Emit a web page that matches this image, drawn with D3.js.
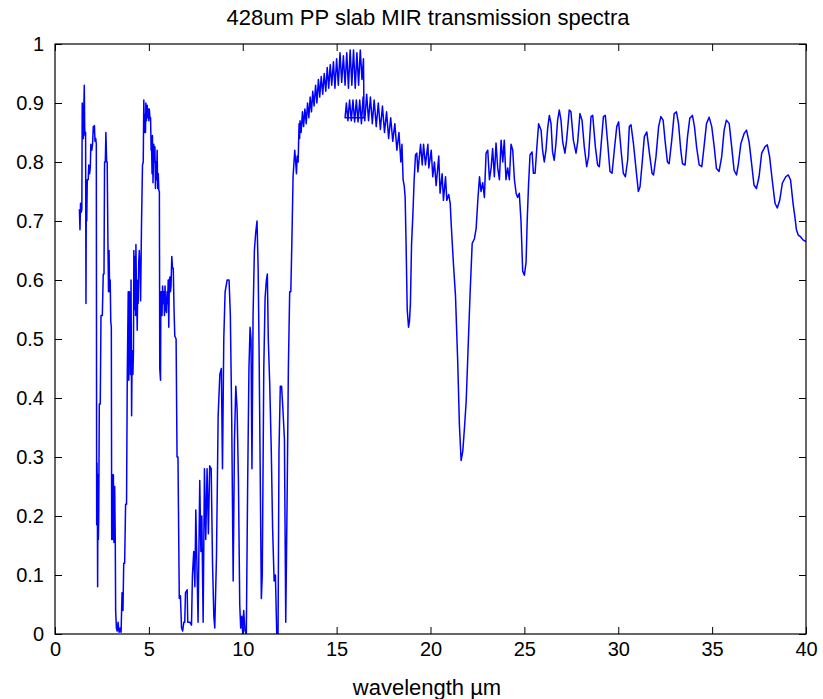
<!DOCTYPE html>
<html>
<head>
<meta charset="utf-8">
<script src="https://cdn.jsdelivr.net/npm/d3@7"></script>
<style>
  html, body { margin: 0; padding: 0; background: #ffffff; }
  svg { display: block; }
  text { font-family: "Liberation Sans", Arial, sans-serif; fill: #000; }
</style>
</head>
<body>
<div id="chart"></div>
<script>
// ---------- DATA (wavelength µm, transmission) ----------
const titleText = "428um PP slab MIR transmission spectra";
const xLabelText = "wavelength \u00b5m";
const xTicks = [0, 5, 10, 15, 20, 25, 30, 35, 40];
const yTicks = [0, 0.1, 0.2, 0.3, 0.4, 0.5, 0.6, 0.7, 0.8, 0.9, 1];

const segNear = [[1.30,0.72],[1.33,0.685],[1.36,0.73],[1.40,0.715],[1.43,0.72],[1.45,0.90],[1.48,0.88],[1.51,0.84],[1.54,0.90],[1.56,0.93],[1.58,0.86],[1.60,0.845],[1.63,0.85],[1.65,0.56],[1.67,0.77],[1.69,0.70],[1.72,0.77],[1.77,0.77],[1.80,0.795],[1.84,0.78],[1.88,0.79],[1.91,0.83],[1.96,0.82],[2.00,0.83],[2.04,0.86],[2.08,0.85],[2.10,0.862],[2.13,0.835],[2.17,0.84],[2.20,0.83],[2.22,0.185],[2.24,0.29],[2.26,0.19],[2.27,0.08],[2.29,0.27],[2.31,0.16],[2.33,0.20],[2.36,0.39],[2.41,0.39],[2.45,0.54],[2.52,0.54],[2.57,0.61],[2.61,0.61],[2.64,0.80],[2.68,0.80],[2.71,0.85],[2.75,0.80],[2.78,0.80],[2.82,0.66],[2.85,0.58],[2.88,0.65],[2.91,0.58],[2.94,0.60],[2.97,0.53],[3.00,0.52],[3.02,0.16],[3.05,0.27],[3.08,0.16],[3.11,0.27],[3.14,0.155],[3.18,0.25],[3.21,0.16],[3.23,0.04],[3.27,0.01],[3.31,0.005],[3.36,0.02],[3.41,0.003],[3.47,0.01],[3.52,0.003],[3.57,0.07],[3.62,0.04],[3.66,0.12],[3.71,0.12],[3.76,0.22],[3.81,0.22],[3.85,0.44],[3.90,0.58],[3.93,0.43],[3.96,0.58],[3.99,0.57],[4.02,0.44],[4.05,0.60],[4.08,0.37],[4.11,0.48],[4.15,0.44],[4.18,0.48],[4.20,0.65],[4.23,0.55],[4.26,0.64],[4.29,0.54],[4.31,0.66],[4.34,0.58],[4.38,0.515],[4.41,0.60],[4.43,0.56],[4.46,0.63],[4.49,0.65],[4.53,0.62],[4.56,0.565],[4.61,0.70],[4.66,0.795],[4.70,0.80],[4.73,0.905],[4.76,0.85],[4.79,0.88],[4.82,0.85],[4.84,0.90],[4.87,0.87],[4.91,0.896],[4.94,0.875],[4.96,0.89],[5.00,0.87],[5.02,0.89],[5.06,0.875],[5.09,0.875],[5.12,0.82],[5.14,0.83],[5.17,0.78],[5.19,0.845],[5.22,0.765],[5.26,0.83],[5.30,0.80],[5.32,0.826],[5.35,0.755],[5.38,0.80],[5.41,0.77],[5.44,0.82],[5.47,0.755],[5.50,0.78],[5.53,0.752],[5.56,0.75],[5.58,0.45],[5.62,0.43],[5.64,0.58],[5.67,0.58],[5.70,0.54],[5.73,0.59],[5.76,0.56],[5.80,0.58],[5.83,0.54],[5.86,0.59],[5.90,0.55],[5.94,0.545],[5.97,0.58],[6.00,0.56],[6.03,0.60],[6.06,0.52],[6.09,0.60],[6.12,0.605],[6.15,0.58],[6.18,0.59],[6.22,0.64],[6.26,0.62],[6.30,0.62],[6.34,0.55],[6.38,0.505],[6.45,0.50],[6.50,0.30],[6.55,0.30],[6.62,0.06],[6.68,0.065],[6.74,0.01],[6.80,0.005],[6.86,0.02],[6.91,0.02],[6.95,0.07],[7.04,0.075],[7.07,0.02],[7.18,0.02],[7.27,0.015]];

const segFingerprint = [[7.32,0.10],[7.39,0.14],[7.45,0.08],[7.50,0.21],[7.57,0.10],[7.62,0.02],[7.68,0.18],[7.71,0.26],[7.77,0.14],[7.82,0.20],[7.89,0.02],[7.96,0.28],[8.03,0.16],[8.10,0.28],[8.17,0.17],[8.24,0.285],[8.32,0.28],[8.39,0.12],[8.46,0.03],[8.51,0.01],[8.60,0.13],[8.69,0.37],[8.78,0.44],[8.86,0.45],[8.92,0.28],[8.99,0.50],[9.06,0.58],[9.17,0.60],[9.27,0.60],[9.34,0.54],[9.41,0.37],[9.49,0.09],[9.56,0.33],[9.63,0.42],[9.70,0.38],[9.77,0.26],[9.84,0.05],[9.89,0.01],[9.95,0.03],[10.00,0.0],[10.05,0.04],[10.12,0.005],[10.19,0.0],[10.26,0.25],[10.33,0.45],[10.39,0.52],[10.44,0.50],[10.49,0.28],[10.55,0.54],[10.62,0.65],[10.69,0.68],[10.76,0.70],[10.82,0.62],[10.87,0.48],[10.92,0.31],[10.99,0.06],[11.04,0.10],[11.12,0.45],[11.19,0.57],[11.26,0.60],[11.31,0.61],[11.36,0.50],[11.44,0.42],[11.52,0.31],[11.59,0.18],[11.67,0.09],[11.74,0.10],[11.81,0.0],[11.88,0.0],[11.93,0.31],[12.00,0.42],[12.07,0.42],[12.14,0.38],[12.22,0.33],[12.29,0.02],[12.36,0.22],[12.43,0.45],[12.50,0.58],[12.56,0.58],[12.62,0.67],[12.68,0.775],[12.73,0.80],[12.77,0.82],[12.82,0.80],[12.86,0.78],[12.90,0.81],[12.95,0.80],[13.00,0.865],[13.03,0.84]];

const segUpperBand = [[13.05,0.87],[13.11,0.85],[13.18,0.885],[13.24,0.86],[13.31,0.89],[13.38,0.865],[13.45,0.90],[13.52,0.875],[13.59,0.91],[13.66,0.885],[13.73,0.92],[13.80,0.895],[13.88,0.93],[13.95,0.90],[14.03,0.94],[14.10,0.91],[14.18,0.945],[14.26,0.915],[14.34,0.95],[14.42,0.92],[14.50,0.96],[14.58,0.925],[14.66,0.965],[14.74,0.93],[14.83,0.97],[14.91,0.925],[15.00,0.975],[15.09,0.93],[15.18,0.985],[15.27,0.935],[15.36,0.98],[15.45,0.93],[15.54,0.985],[15.63,0.925],[15.72,0.99],[15.81,0.93],[15.90,0.99],[15.99,0.925],[16.08,0.985],[16.17,0.93],[16.26,0.99],[16.35,0.94],[16.43,0.975],[16.46,0.875]];

const segLowerBand = [[15.45,0.875],[15.52,0.90],[15.60,0.87],[15.69,0.905],[15.78,0.87],[15.87,0.905],[15.96,0.868],[16.05,0.905],[16.14,0.868],[16.23,0.905],[16.32,0.865],[16.41,0.91],[16.50,0.87],[16.60,0.915],[16.70,0.87],[16.80,0.91],[16.90,0.865],[17.00,0.905],[17.11,0.86],[17.22,0.90],[17.33,0.855],[17.44,0.895],[17.55,0.85],[17.66,0.885],[17.77,0.84],[17.88,0.875],[17.99,0.835],[18.10,0.865],[18.21,0.82],[18.32,0.85],[18.42,0.80],[18.48,0.83],[18.54,0.77],[18.60,0.76],[18.65,0.74],[18.70,0.66],[18.76,0.55],[18.83,0.52],[18.88,0.53],[18.93,0.56],[18.99,0.66],[19.06,0.71],[19.13,0.77]];

const segFar1 = [[19.20,0.812],[19.27,0.815],[19.33,0.783],[19.41,0.81],[19.47,0.83],[19.56,0.795],[19.63,0.83],[19.73,0.795],[19.86,0.83],[19.91,0.79],[20.04,0.82],[20.12,0.775],[20.21,0.80],[20.30,0.76],[20.44,0.81],[20.51,0.747],[20.62,0.78],[20.69,0.735],[20.80,0.775],[20.87,0.735],[20.97,0.745],[21.05,0.73],[21.10,0.696],[21.22,0.628],[21.33,0.574],[21.45,0.461],[21.54,0.354],[21.63,0.294],[21.72,0.31],[21.81,0.35],[21.90,0.394],[21.99,0.473],[22.11,0.578],[22.22,0.662],[22.34,0.67],[22.43,0.687],[22.52,0.735],[22.61,0.775],[22.69,0.75],[22.78,0.765],[22.87,0.74],[22.96,0.815],[23.05,0.82],[23.14,0.77],[23.23,0.79],[23.31,0.823],[23.40,0.775],[23.49,0.832],[23.58,0.79],[23.67,0.77],[23.76,0.837],[23.85,0.80],[23.93,0.837],[24.02,0.77],[24.11,0.79],[24.20,0.77],[24.29,0.83],[24.38,0.82],[24.47,0.77],[24.56,0.747],[24.64,0.74],[24.73,0.747],[24.82,0.70],[24.91,0.615],[25.00,0.608],[25.09,0.63],[25.15,0.70],[25.22,0.76],[25.30,0.812],[25.41,0.817],[25.48,0.781],[25.57,0.781],[25.66,0.823],[25.76,0.865]];

const segFar2 = [[25.89,0.854],[25.97,0.82],[26.06,0.80],[26.15,0.82],[26.24,0.857],[26.33,0.879],[26.42,0.865],[26.50,0.817],[26.59,0.803],[26.68,0.831],[26.77,0.871],[26.86,0.888],[26.95,0.871],[27.04,0.834],[27.16,0.815],[27.25,0.837],[27.39,0.888],[27.48,0.885],[27.61,0.837],[27.75,0.815],[27.84,0.834],[27.96,0.882],[28.07,0.871],[28.19,0.826],[28.32,0.792],[28.42,0.809],[28.55,0.877],[28.64,0.879],[28.78,0.826],[28.90,0.795],[28.99,0.792],[29.08,0.826],[29.21,0.877],[29.31,0.879],[29.44,0.831],[29.56,0.784],[29.67,0.781],[29.79,0.82],[29.92,0.86],[30.02,0.868],[30.15,0.82],[30.27,0.781],[30.38,0.775],[30.50,0.803],[30.59,0.86],[30.68,0.863],[30.81,0.831],[30.95,0.787],[31.07,0.75],[31.16,0.758],[31.27,0.797],[31.39,0.843],[31.52,0.851],[31.66,0.815],[31.80,0.781],[31.88,0.778],[32.01,0.809],[32.15,0.86],[32.27,0.877],[32.39,0.871],[32.50,0.834],[32.62,0.80],[32.71,0.797],[32.85,0.837],[32.98,0.882],[33.10,0.885],[33.21,0.865],[33.33,0.82],[33.42,0.797],[33.56,0.795],[33.69,0.843],[33.81,0.874],[33.95,0.879],[34.06,0.86],[34.17,0.826],[34.31,0.795],[34.45,0.792],[34.57,0.826],[34.70,0.865],[34.84,0.876],[34.98,0.86],[35.11,0.826],[35.23,0.789],[35.37,0.784],[35.51,0.809],[35.64,0.854],[35.76,0.871],[35.91,0.865],[36.05,0.823],[36.17,0.786],[36.30,0.778],[36.40,0.797],[36.53,0.831],[36.70,0.848],[36.83,0.854],[36.97,0.834],[37.11,0.795],[37.23,0.761],[37.36,0.755],[37.50,0.775],[37.64,0.815],[37.82,0.826],[37.94,0.829],[38.06,0.809],[38.21,0.767],[38.35,0.73],[38.47,0.722],[38.60,0.735],[38.74,0.764],[38.92,0.775],[39.06,0.778],[39.18,0.769],[39.31,0.73],[39.42,0.704],[39.49,0.685],[39.59,0.676],[39.72,0.673],[39.84,0.668],[40.00,0.665]];

const spectrum = [].concat(segNear, segFingerprint, segUpperBand, segLowerBand, segFar1, segFar2);

// ---------- LAYOUT ----------
const W = 823, H = 699;
const m = { left: 55, right: 806, top: 44, bottom: 634 };

const svg = d3.select("#chart").append("svg")
  .attr("width", W).attr("height", H);
svg.append("rect").attr("width", W).attr("height", H).attr("fill", "#fff");

const x = d3.scaleLinear().domain([0, 40]).range([m.left, m.right]);
const y = d3.scaleLinear().domain([0, 1]).range([m.bottom, m.top]);

svg.append("defs").append("clipPath").attr("id", "clip")
  .append("rect").attr("x", m.left).attr("y", m.top)
  .attr("width", m.right - m.left).attr("height", m.bottom - m.top);

// data line
const line = d3.line().x(d => x(d[0])).y(d => y(d[1]));
svg.append("path")
  .datum(spectrum)
  .attr("clip-path", "url(#clip)")
  .attr("fill", "none")
  .attr("stroke", "#0000ff")
  .attr("stroke-width", 1.5)
  .attr("stroke-linejoin", "round")
  .attr("d", line);

// axes
const tickLen = 7;
const fmtY = d => (d === 0 ? "0" : d === 1 ? "1" : d3.format(".1f")(d));

const gx = svg.append("g").attr("transform", `translate(0,${m.bottom})`)
  .call(d3.axisBottom(x).tickValues(xTicks).tickSizeInner(-tickLen).tickSizeOuter(0).tickPadding(8).tickFormat(d3.format("d")));
const gxTop = svg.append("g").attr("transform", `translate(0,${m.top})`)
  .call(d3.axisTop(x).tickValues(xTicks).tickSizeInner(-tickLen).tickSizeOuter(0).tickFormat(""));
const gy = svg.append("g").attr("transform", `translate(${m.left},0)`)
  .call(d3.axisLeft(y).tickValues(yTicks).tickSizeInner(-tickLen).tickSizeOuter(0).tickPadding(11).tickFormat(fmtY));
const gyRight = svg.append("g").attr("transform", `translate(${m.right},0)`)
  .call(d3.axisRight(y).tickValues(yTicks).tickSizeInner(-tickLen).tickSizeOuter(0).tickFormat(""));

[gx, gxTop, gy, gyRight].forEach(g => {
  g.select(".domain").remove();
  g.selectAll(".tick line").attr("stroke", "#000").attr("stroke-width", 1);
  g.selectAll(".tick text").attr("font-size", 20).attr("font-family", "'Liberation Sans', Arial, sans-serif").attr("fill", "#000");
});
gx.selectAll(".tick text").attr("dy", "0.72em");

// frame
svg.append("rect")
  .attr("x", m.left).attr("y", m.top)
  .attr("width", m.right - m.left).attr("height", m.bottom - m.top)
  .attr("fill", "none").attr("stroke", "#000").attr("stroke-width", 1.2);

// title & label
svg.append("text").attr("x", 428).attr("y", 25)
  .attr("text-anchor", "middle").attr("font-size", 22).text(titleText);
svg.append("text").attr("x", 427).attr("y", 695)
  .attr("text-anchor", "middle").attr("font-size", 22).text(xLabelText);
</script>
</body>
</html>
